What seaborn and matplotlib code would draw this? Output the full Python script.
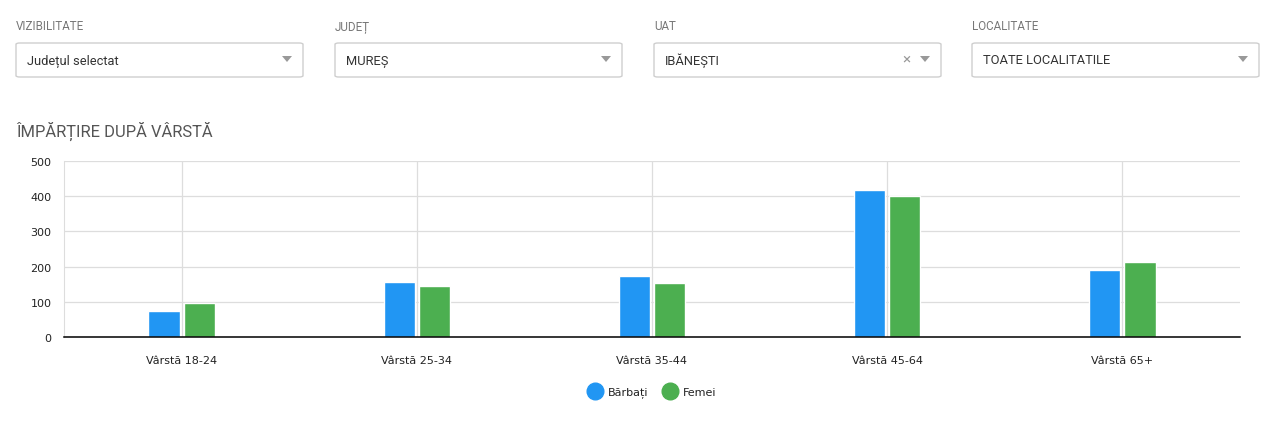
import numpy as np
import pandas as pd
import seaborn as sns
import matplotlib.pyplot as plt
from matplotlib.patches import FancyBboxPatch, Polygon
from matplotlib.lines import Line2D

# data
categorii = ["Vârstă 18-24", "Vârstă 25-34", "Vârstă 35-44", "Vârstă 45-64", "Vârstă 65+"]
barbati = [75, 157, 174, 418, 191]
femei = [98, 146, 154, 401, 214]
serii = ["Bărbați", "Femei"]
culori = ["#2196F3", "#4CAF50"]
y_ticks = [0, 100, 200, 300, 400, 500]

filtre_titluri = ["VIZIBILITATE", "JUDEȚ", "UAT", "LOCALITATE"]
filtre_valori = ["Județul selectat", "MUREȘ", "IBĂNEȘTI", "TOATE LOCALITATILE"]

df = pd.DataFrame({
    "categorie": categorii * 2,
    "valoare": barbati + femei,
    "gen": [serii[0]] * len(categorii) + [serii[1]] * len(categorii),
})

W, H = 1286, 431
sns.set_style("white")
plt.rcParams['font.family'] = ['DejaVu Sans']
fig = plt.figure(figsize=(W / 100, H / 100), dpi=100)

def fx(x):
    return x / W

def fy(y):
    return 1 - y / H

# filter boxes on top
box_x = [16, 335, 654, 972]
box_w = 287
for i, (tit, val) in enumerate(zip(filtre_titluri, filtre_valori)):
    x0 = box_x[i]
    fig.text(fx(x0), fy(27), tit, family="Roboto", fontsize=8.4, color="#777777", va="center")
    box = FancyBboxPatch((fx(x0), fy(78)), fx(box_w), 34 / H,
                         boxstyle="round,pad=0,rounding_size=0.003",
                         transform=fig.transFigure, facecolor="white",
                         edgecolor="#cfcfcf", linewidth=1.0)
    fig.patches.append(box)
    fig.text(fx(x0 + 11), fy(61), val, family="Roboto", fontsize=9.3, color="#333333", va="center")
    ax_ = x0 + box_w - 16
    tri = Polygon([[fx(ax_ - 5), fy(57)], [fx(ax_ + 5), fy(57)], [fx(ax_), fy(63)]],
                  closed=True, transform=fig.transFigure, facecolor="#999999", edgecolor="none")
    fig.patches.append(tri)
    if tit == "UAT":
        fig.text(fx(ax_ - 19), fy(60), "×", family="Roboto", fontsize=11, color="#999999",
                 ha="center", va="center")

fig.text(fx(16), fy(131), "ÎMPĂRȚIRE DUPĂ VÂRSTĂ", family="Roboto", fontsize=11.9,
         color="#555555", va="center")

ax = fig.add_axes([fx(64), fy(338), fx(1240 - 64), (338 - 162) / H])
sns.barplot(data=df, x="categorie", y="valoare", hue="gen", palette=culori,
            width=0.298, gap=0.11, ax=ax, legend=False, saturation=1)

ax.set_xlim(-0.5, len(categorii) - 0.5)
ax.set_ylim(0, 500)
ax.set_yticks(y_ticks)
ax.set_xlabel("")
ax.set_ylabel("")
ax.set_axisbelow(True)
ax.grid(True, color="#dddddd", linewidth=0.9)
for s in ["top", "right"]:
    ax.spines[s].set_visible(False)
ax.spines["left"].set_color("#dddddd")
ax.spines["bottom"].set_color("#000000")
ax.spines["bottom"].set_linewidth(1.1)
ax.tick_params(axis="x", length=5, width=1, color="#000000", labelsize=8,
               labelcolor="#222222", pad=8)
ax.tick_params(axis="y", length=5, width=1, color="#dddddd", labelsize=8,
               labelcolor="#222222", pad=4)

handles = [Line2D([], [], marker="o", linestyle="none", markersize=12,
                  markerfacecolor=c, markeredgecolor=c) for c in culori]
fig.legend(handles, serii, loc="center", bbox_to_anchor=(fx(650), fy(393)), ncol=2,
           frameon=False, fontsize=8, handletextpad=0.1, columnspacing=1.0,
           labelcolor="#222222")

fig.savefig("out.png", dpi=100)
